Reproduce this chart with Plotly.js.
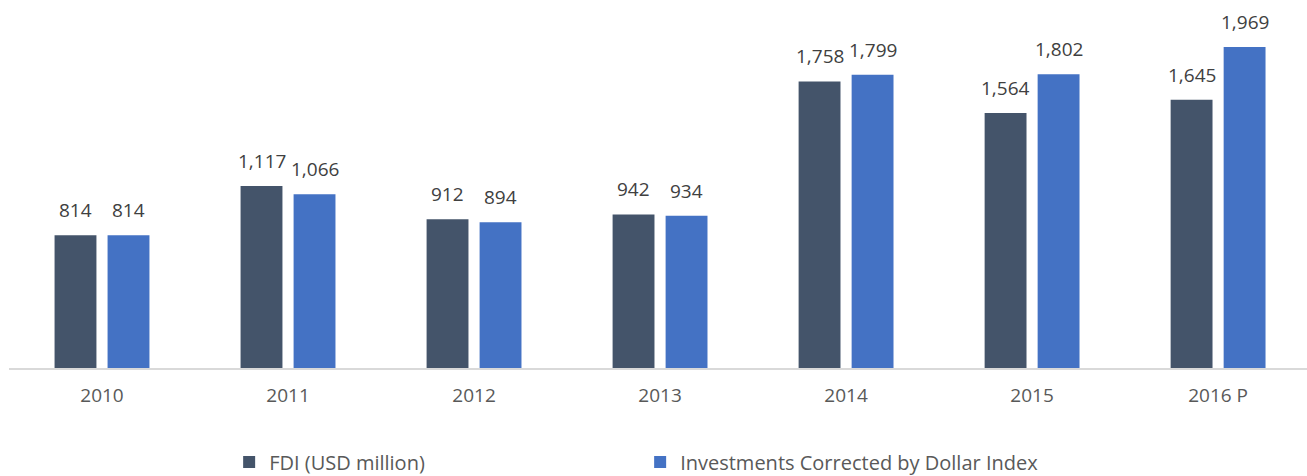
<!DOCTYPE html>
<html>
<head>
<meta charset="utf-8">
<script src="https://cdn.plot.ly/plotly-3.0.1.min.js"></script>
<style>html,body{margin:0;padding:0;background:#fff;}#chart{width:1307px;height:476px;}</style>
</head>
<body>
<div id="chart"></div>
<script>
const categories = ["2010", "2011", "2012", "2013", "2014", "2015", "2016 P"];
const fdiValues = [814, 1117, 912, 942, 1758, 1564, 1645];
const correctedValues = [814, 1066, 894, 934, 1799, 1802, 1969];
const seriesNames = ["FDI (USD million)", "Investments Corrected by Dollar Index"];

const fmt = v => v.toLocaleString("en-US");
const labelFont = {family: "Open Sans, sans-serif", size: 19, color: "#404040"};

const traces = [
  {type: "bar", name: seriesNames[0], x: categories, y: fdiValues,
   marker: {color: "#44546a"}, hoverinfo: "x+y"},
  {type: "bar", name: seriesNames[1], x: categories, y: correctedValues,
   marker: {color: "#4472c4"}, hoverinfo: "x+y"}
];

const annotations = [];
[fdiValues, correctedValues].forEach((vals, si) => {
  vals.forEach((v, i) => {
    annotations.push({x: i, y: v, xref: "x", yref: "y",
      text: fmt(v), showarrow: false, yanchor: "bottom", xanchor: "center",
      xshift: si === 0 ? -26.5 : 26.5, yshift: 10, font: labelFont});
  });
});

const layout = {
  width: 1307, height: 476,
  margin: {l: 9, r: 0, t: 42, b: 108, autoexpand: false},
  paper_bgcolor: "#fff", plot_bgcolor: "#fff",
  barmode: "group", bargap: 0.43, bargroupgap: 0.21,
  font: {family: "Open Sans, sans-serif", size: 20, color: "#595959"},
  xaxis: {type: "category", range: [-0.5, 6.478], showline: true, linecolor: "#d9d9d9", linewidth: 1.5,
          ticks: "", showgrid: false, ticklabelstandoff: 10, automargin: false,
          tickfont: {size: 19, color: "#595959"}},
  yaxis: {range: [0, 2000], visible: false, showgrid: false, zeroline: false, automargin: false},
  annotations: annotations,
  showlegend: true,
  legend: {orientation: "h", x: 0.1696, xanchor: "left", y: -0.288, yanchor: "middle",
           font: {size: 20, color: "#595959"}, entrywidth: 366, itemwidth: 30,
           traceorder: "normal"}
};

Plotly.newPlot("chart", traces, layout, {displayModeBar: false, staticPlot: true});
</script>
</body>
</html>
